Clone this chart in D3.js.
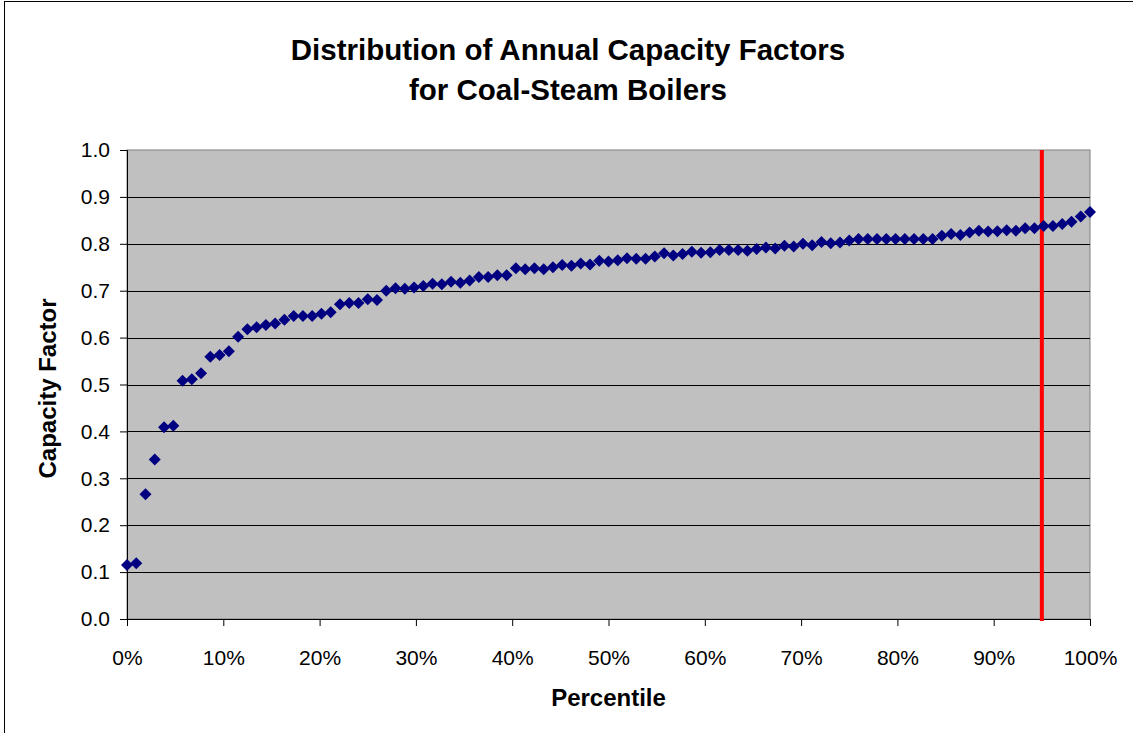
<!DOCTYPE html>
<html>
<head>
  <title>Distribution of Annual Capacity Factors</title>
  <style>
    body {
      margin: 0;
      background: #fff;
    }

    #chart {
      font-family: "Liberation Sans", Arial, sans-serif;
    }

    .axis text {
      font-size: 21px;
      fill: #000;
    }

    .grid line {
      stroke: #000;
      stroke-width: 1px;
    }
  </style>
</head>
<body>
  <div id="chart"></div>

  <script src="https://d3js.org/d3.v7.min.js"></script>
  <script>
    // Title and axis labels
    const titleLines = ["Distribution of Annual Capacity Factors", "for Coal-Steam Boilers"];
    const xTitle = "Percentile";
    const yTitle = "Capacity Factor";

    // Tick values
    const xTicks = [0, 0.1, 0.2, 0.3, 0.4, 0.5, 0.6, 0.7, 0.8, 0.9, 1.0];
    const yTicks = [0, 0.1, 0.2, 0.3, 0.4, 0.5, 0.6, 0.7, 0.8, 0.9, 1.0];

    // Capacity factors of each boiler, sorted ascending
    const capacityFactors = [
      0.115, 0.119, 0.266, 0.340, 0.409, 0.412, 0.508, 0.511, 0.524, 0.559,
      0.563, 0.571, 0.602, 0.618, 0.622, 0.627, 0.630, 0.638, 0.646, 0.646,
      0.646, 0.651, 0.654, 0.671, 0.674, 0.674, 0.682, 0.680, 0.700, 0.705,
      0.704, 0.707, 0.710, 0.715, 0.714, 0.719, 0.717, 0.722, 0.729, 0.729,
      0.733, 0.733, 0.748, 0.746, 0.748, 0.746, 0.750, 0.755, 0.753, 0.758,
      0.756, 0.764, 0.762, 0.765, 0.769, 0.768, 0.768, 0.773, 0.780, 0.775,
      0.778, 0.783, 0.781, 0.782, 0.787, 0.787, 0.787, 0.785, 0.789, 0.792,
      0.790, 0.796, 0.794, 0.800, 0.797, 0.804, 0.801, 0.803, 0.807, 0.810,
      0.810, 0.810, 0.810, 0.810, 0.810, 0.810, 0.810, 0.810, 0.817, 0.821,
      0.819, 0.824, 0.828, 0.826, 0.827, 0.829, 0.828, 0.833, 0.833, 0.838,
      0.838, 0.842, 0.847, 0.858, 0.868
    ];

    // Red marker line at the 95th percentile
    const markerPercentile = 0.95;

    // Percentile rank of each sorted value
    const points = capacityFactors.map((v, i) => ({ p: i / (capacityFactors.length - 1), v }));

    const W = 1133, H = 733;
    const margin = { top: 150, right: 43, bottom: 114, left: 127 };
    const width = W - margin.left - margin.right;
    const height = H - margin.top - margin.bottom;

    const svg = d3.select("#chart")
      .append("svg")
      .attr("width", W)
      .attr("height", H);

    // Outer chart frame
    svg.append("rect")
      .attr("x", 4.5)
      .attr("y", 1.5)
      .attr("width", W + 10)
      .attr("height", H + 10)
      .attr("fill", "#fff")
      .attr("stroke", "#000");

    // Title
    svg.append("text")
      .attr("x", 568)
      .attr("y", 60)
      .attr("text-anchor", "middle")
      .style("font-size", "29.5px")
      .style("font-weight", "bold")
      .selectAll("tspan")
      .data(titleLines)
      .enter()
      .append("tspan")
      .attr("x", 568)
      .attr("dy", (d, i) => i === 0 ? 0 : 40)
      .text(d => d);

    const g = svg.append("g")
      .attr("transform", "translate(" + margin.left + "," + margin.top + ")");

    const x = d3.scaleLinear().domain([0, 1]).range([0, width]);
    const y = d3.scaleLinear().domain([0, 1]).range([height, 0]);

    // Plot area
    g.append("rect")
      .attr("width", width)
      .attr("height", height)
      .attr("fill", "#c0c0c0")
      .attr("stroke", "#808080");

    // Horizontal gridlines
    g.append("g")
      .attr("class", "grid")
      .selectAll("line")
      .data(yTicks.filter(t => t > 0 && t < 1))
      .enter()
      .append("line")
      .attr("x1", 0)
      .attr("x2", width)
      .attr("y1", d => Math.round(y(d)) + 0.5)
      .attr("y2", d => Math.round(y(d)) + 0.5);

    // Axes
    g.append("g")
      .attr("class", "axis")
      .attr("transform", "translate(0," + height + ")")
      .call(d3.axisBottom(x).tickValues(xTicks).tickFormat(d3.format(".0%")).tickSize(7).tickPadding(24));

    g.append("g")
      .attr("class", "axis")
      .call(d3.axisLeft(y).tickValues(yTicks).tickFormat(d3.format(".1f")).tickSize(7).tickPadding(10));

    g.selectAll(".axis path, .axis line").attr("stroke", "#000");
    g.selectAll(".axis text").attr("font-family", null);

    // 95th percentile line
    g.append("line")
      .attr("x1", x(markerPercentile))
      .attr("x2", x(markerPercentile))
      .attr("y1", 0)
      .attr("y2", height + 2)
      .attr("stroke", "#ff0000")
      .attr("stroke-width", 4);

    // Data points as diamonds
    g.selectAll(".pt")
      .data(points)
      .enter()
      .append("path")
      .attr("class", "pt")
      .attr("transform", d => "translate(" + x(d.p) + "," + y(d.v) + ")")
      .attr("d", "M0,-6L6,0L0,6L-6,0Z")
      .attr("fill", "#000080");

    // Axis titles
    svg.append("text")
      .attr("x", margin.left + width / 2)
      .attr("y", 706)
      .attr("text-anchor", "middle")
      .style("font-size", "24px")
      .style("font-weight", "bold")
      .text(xTitle);

    svg.append("text")
      .attr("transform", "translate(56," + (margin.top + height / 2 + 4) + ") rotate(-90)")
      .attr("text-anchor", "middle")
      .style("font-size", "24px")
      .style("font-weight", "bold")
      .text(yTitle);
  </script>
</body>
</html>
